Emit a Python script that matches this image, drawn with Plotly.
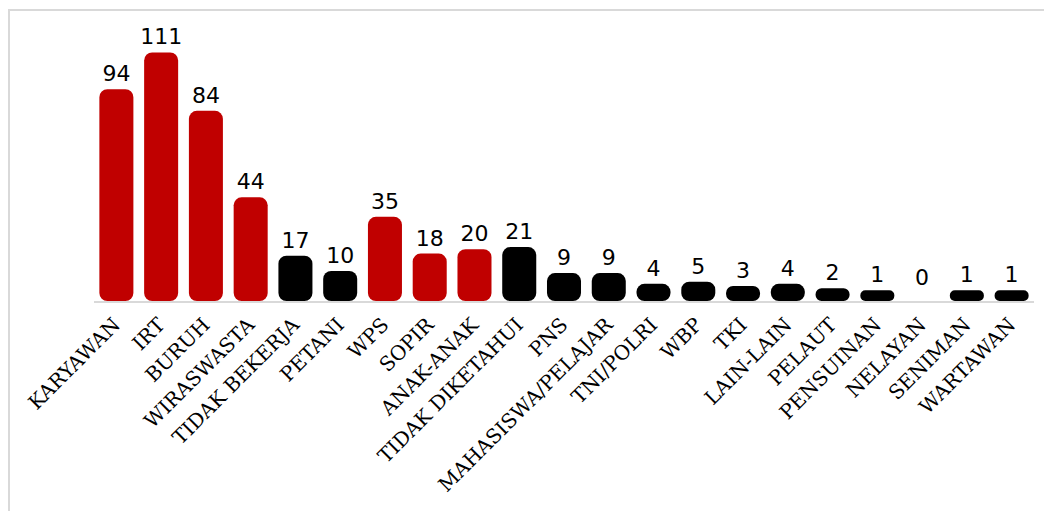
import plotly.graph_objects as go

categories = ["KARYAWAN", "IRT", "BURUH", "WIRASWASTA", "TIDAK BEKERJA", "PETANI",
              "WPS", "SOPIR", "ANAK-ANAK", "TIDAK DIKETAHUI", "PNS", "MAHASISWA/PELAJAR",
              "TNI/POLRI", "WBP", "TKI", "LAIN-LAIN", "PELAUT", "PENSUINAN", "NELAYAN",
              "SENIMAN", "WARTAWAN"]
values = [94, 111, 84, 44, 17, 10, 35, 18, 20, 21, 9, 9, 4, 5, 3, 4, 2, 1, 0, 1, 1]
highlight = ["KARYAWAN", "IRT", "BURUH", "WIRASWASTA", "WPS", "SOPIR", "ANAK-ANAK"]

RED = "#C00000"
BLACK = "#000000"
colors = [RED if c in highlight else BLACK for c in categories]

CAP = 3.92  # rounded cap drawn below the zero line (Excel-style shape offset)
bases = [-CAP if v > 0 else 0 for v in values]
heights = [v - b for v, b in zip(values, bases)]  # bar spans [base, value]

W, H = 1044, 511
ML, MR, MT, MB = 94, 10, 20, 209.5

fig = go.Figure(go.Bar(
    x=categories, y=heights, base=bases,
    marker=dict(color=colors, cornerradius=8, line=dict(width=0)),
    text=[str(v) for v in values], textposition="outside",
    textfont=dict(family="DejaVu Sans", size=22, color="#000000"),
    constraintext="none",
    cliponaxis=False, width=0.76, hoverinfo="skip",
))

pw = W - ML - MR
ph = H - MT - MB
fig.add_shape(type="rect", xref="paper", yref="paper",
              x0=(9 - ML) / pw, x1=(W + 20 - ML) / pw,
              y0=-(H + 20 - MT) / ph + 1, y1=1 + (MT - 10) / ph,
              line=dict(color="#D9D9D9", width=2), fillcolor="rgba(0,0,0,0)", layer="below")

fig.update_layout(
    width=W, height=H,
    margin=dict(l=ML, r=MR, t=MT, b=MB, pad=0),
    paper_bgcolor="white", plot_bgcolor="white",
    showlegend=False,
    uniformtext=dict(minsize=22, mode="show"),
    xaxis=dict(showline=True, linecolor="#D9D9D9", linewidth=2, ticks="",
               tickangle=-45, showgrid=False, automargin=False,
               ticklabelshift=-2, ticklabelstandoff=2,
               tickfont=dict(family="DejaVu Serif", size=20, color="#000000")),
    yaxis=dict(visible=False, range=[-CAP, 126], showgrid=False, zeroline=False),
)

fig.write_html("out.html", config={"displayModeBar": False, "staticPlot": True},
               post_script="document.body.style.margin='0';document.body.style.overflow='hidden';")
